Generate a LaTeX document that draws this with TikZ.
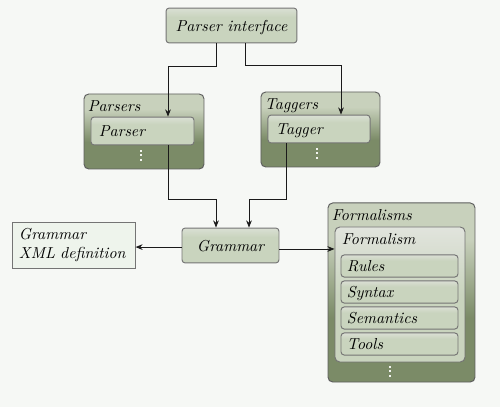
\documentclass[tikz,border=0pt]{standalone}
\usetikzlibrary{arrows.meta}

\definecolor{bgcol}{HTML}{F6F8F5}
\definecolor{boxfill}{HTML}{C9D4BE}
\definecolor{boxtop}{HTML}{E1E4DD}
\definecolor{grouplight}{HTML}{C8D1BC}
\definecolor{groupdark}{HTML}{7B8B67}
\definecolor{xmlfill}{HTML}{EEF4EC}
\definecolor{boxline}{HTML}{747474}
\definecolor{groupline}{HTML}{5E5E5E}
\definecolor{linecol}{HTML}{1A1A1A}
\definecolor{dotcol}{HTML}{F2F4EF}

\pgfdeclareverticalshading{groupshade}{100bp}{color(0bp)=(groupdark); color(43bp)=(groupdark); color(65bp)=(grouplight); color(100bp)=(grouplight)}
\pgfdeclareverticalshading{boxshade}{100bp}{color(0bp)=(boxfill); color(50bp)=(boxfill); color(75bp)=(boxtop); color(100bp)=(boxtop)}
\pgfdeclareverticalshading{itemshade}{100bp}{color(0bp)=(boxfill); color(62bp)=(boxfill); color(75bp)=(boxtop!70!boxfill); color(100bp)=(boxtop!70!boxfill)}

\begin{document}
\begin{tikzpicture}[x=0.63pt, y=-0.63pt,
  every node/.style={font=\itshape},
  mainbox/.style={draw=boxline, shading=itemshade, rounded corners=2pt, line width=0.6pt,
    minimum height=22pt, text height=7pt, text depth=0pt},
  groupbox/.style={draw=groupline, shading=groupshade, rounded corners=3pt, line width=0.6pt, inner sep=0pt},
  innergroup/.style={draw=boxline, shading=boxshade, rounded corners=3pt, line width=0.6pt, inner sep=0pt},
  grouptitle/.style={anchor=north west, inner xsep=2.5pt, inner ysep=4pt, text height=7pt, text depth=0pt},
  itembox/.style={draw=boxline, shading=itemshade, rounded corners=2pt, line width=0.6pt, align=left,
    inner xsep=5pt, inner ysep=1pt, text height=7pt, text depth=0pt},
  xmlbox/.style={draw=boxline, fill=xmlfill, line width=0.6pt, align=left, inner xsep=4.4pt},
  conn/.style={-{Stealth[length=4.5pt, width=3.6pt]}, draw=linecol, line width=0.6pt}]

\fill [bgcol] (0, 0) rectangle (500, 407);

% interface
\node [mainbox, minimum width=82.5pt] (pi) at (231.5, 25.5) {Parser interface};

% parsers
\node [groupbox, minimum width=75.6pt, minimum height=47.25pt] (parsers) at (144, 131.5) {};
\node [grouptitle] (parsersT) at (parsers.north west) {Parsers};
\node [itembox, text width=54.9pt, minimum height=17.6pt] (parser) at (142.5, 131) {Parser};

% taggers
\node [groupbox, minimum width=75pt, minimum height=47.25pt] (taggers) at (320.5, 129.5) {};
\node [grouptitle] (taggersT) at (taggers.north west) {Taggers};
\node [itembox, text width=54.3pt, minimum height=17.6pt] (tagger) at (319, 129) {Tagger};

% grammar
\node [mainbox, minimum width=61.1pt] (grammar) at (230.5, 245.5) {Grammar};
\node [xmlbox, text width=68.7pt, minimum height=29pt] (xml) at (73.5, 245) {Grammar\\XML definition};

% formalisms
\node [groupbox, minimum width=92.6pt, minimum height=112.8pt] (formalisms) at (401.5, 292.5) {};
\node [grouptitle] (formalismsT) at (formalisms.north west) {Formalisms};
\node [innergroup, minimum width=81.9pt, minimum height=85.05pt] (formalism) at (400, 294.5) {};
\node [grouptitle] (formalismT) at ([shift={(3, 0)}]formalism.north west) {Formalism};
\foreach \name/\txt/\y in {rules/Rules/266, syntax/Syntax/292, semantics/Semantics/318, tools/Tools/344}
  \node [itembox, inner xsep=3.7pt, text width=66.3pt, minimum height=13.9pt] (\name) at (399.5, \y) {\txt};

% more of the same
\foreach \x/\y in {141/151, 317/149, 390/367}
  \foreach \d in {0, 4.5, 9}
    \fill [dotcol] (\x - 1, \y + \d - 1) rectangle (\x + 1, \y + \d + 1);

% connectors
\coordinate (gw) at ([yshift=-1pt]grammar.west);
\coordinate (ge) at ([yshift=-2.2pt]grammar.east);
\draw [conn] ([shift={(-15.5, 0)}]pi.south) -- ++(0, 23) -| ([shift={(25.5, 0)}]parser.north);
\draw [conn] ([shift={(13.5, 0)}]pi.south) -- ++(0, 22) -| ([shift={(22, 0)}]tagger.north);
\draw [conn] ([shift={(25.5, 0)}]parser.south) -- ++(0, 54) -| ([shift={(-14.5, 0)}]grammar.north);
\draw [conn] ([shift={(-33, 0)}]tagger.south) -- ++(0, 56) -| ([shift={(18.5, 0)}]grammar.north);
\draw [conn] (gw) -- (gw -| xml.east);
\draw [conn] (ge) -- (ge -| formalism.west);
\end{tikzpicture}
\end{document}
